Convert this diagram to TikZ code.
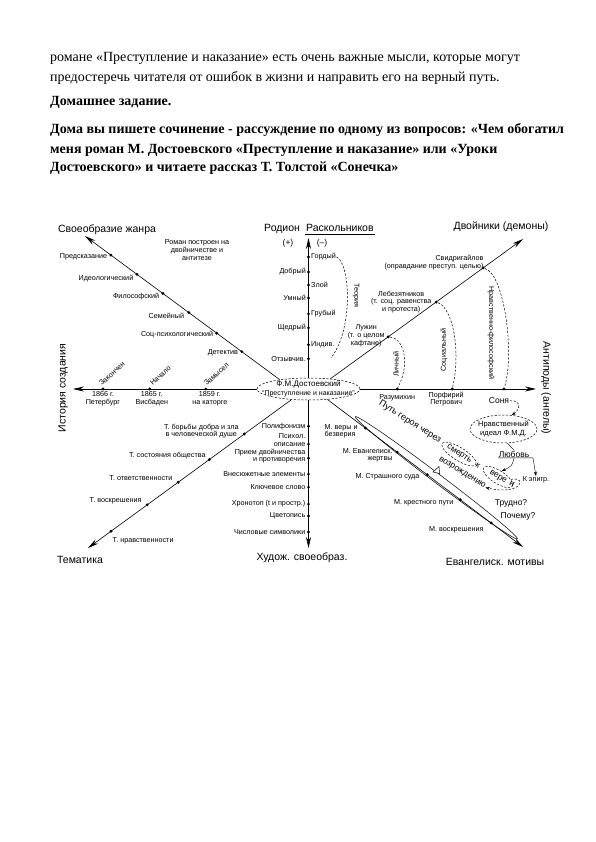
\documentclass[tikz,border=0pt]{standalone}
\usepackage{fontspec}
\setmainfont{Liberation Serif}
\setsansfont{Liberation Sans}
\usetikzlibrary{arrows.meta,positioning,shapes.geometric}

\tikzset{
  ax/.style={line width=0.6pt,-{Stealth[length=11pt,width=5pt]}},
  dot/.style={circle,fill,inner sep=0pt,minimum size=3.2pt},
  lbl/.style={font=\sffamily\fontsize{7.2}{7.6}\selectfont,inner sep=0.5pt},
  ttl/.style={font=\sffamily\fontsize{10.5}{12}\selectfont,inner sep=1pt},
  mid/.style={font=\sffamily\fontsize{8.5}{9}\selectfont,inner sep=0.5pt},
  dsh/.style={dash pattern=on 2.2pt off 1.6pt,line width=0.5pt},
  small arrow/.style={-{Stealth[length=4.5pt,width=3pt]}},
  para/.style={font=\fontsize{14}{16}\selectfont,anchor=base west,inner sep=0pt},
  bpara/.style={para,font=\bfseries\fontsize{14}{16}\selectfont},
}

\begin{document}
\begin{tikzpicture}[x=1pt,y=-1pt]
\useasboundingbox[fill=white] (0,0) rectangle (595,842);

% text above the scheme
\node[para] (p1) at (50,62) {романе «Преступление и наказание» есть очень важные мысли, которые могут};
\node[para] (p2) at (50,82) {предостеречь читателя от ошибок в жизни и направить его на верный путь.};
\node[bpara] (hw) at (50,106) {Домашнее задание.};
\node[bpara] (q1) at (50,134) {Дома вы пишете сочинение - рассуждение по одному из вопросов: «Чем обогатил};
\node[bpara] (q2) at (50,154) {меня роман М. Достоевского «Преступление и наказание» или «Уроки};
\node[bpara] (q3) at (50,172) {Достоевского» и читаете рассказ Т. Толстой «Сонечка»};

% centre
\node[draw,dsh,ellipse,minimum width=103pt,minimum height=22pt,inner sep=0pt] (fmd) at (308.5,389) {};
\node[lbl,align=center,font=\sffamily\fontsize{7}{9}\selectfont] (fmdtxt) at (fmd)
  {{\fontsize{8}{9}\selectfont Ф.М.Достоевский}\\“Преступление и наказание”};

\coordinate (genre) at (85,236);
\coordinate (dvoj) at (523,239);
\coordinate (raskol) at (308.5,238);
\coordinate (hist) at (73,389);
\coordinate (anti) at (536,389);
\coordinate (tema) at (88,548);
\coordinate (hud) at (308.5,548);
\coordinate (evang) at (523,547);

% axes with points
\draw[ax] (fmd.162) -- (genre)
  node[dot,pos=0.867] (g1) {} node[dot,pos=0.733] (g2) {}
  node[dot,pos=0.6] (g3) {} node[dot,pos=0.467] (g4) {}
  node[dot,pos=0.323] (g5) {} node[dot,pos=0.195] (g6) {};
\draw[ax] (fmd.north) -- (raskol)
  node[dot,pos=0.864] (v1) {} node[dot,pos=0.757] (v2) {}
  node[dot,pos=0.664] (v3) {} node[dot,pos=0.571] (v4) {}
  node[dot,pos=0.457] (v5) {} node[dot,pos=0.357] (v6) {}
  node[dot,pos=0.236] (v7) {} node[dot,pos=0.136] (v8) {};
\draw[ax] (fmd.25) -- (dvoj)
  node[dot,pos=0.3] (u1) {} node[dot,pos=0.549] (u2) {} node[dot,pos=0.793] (u3) {};
\draw[ax] (fmd.west) -- (hist)
  node[dot,pos=0.277] (h1) {} node[dot,pos=0.582] (h2) {} node[dot,pos=0.837] (h3) {};
\draw[ax] (fmd.east) -- (anti)
  node[dot,pos=0.21] (a1) {} node[dot,pos=0.523] (a2) {} node[dot,pos=0.818] (a3) {};
\draw[ax] (fmd.212) -- (tema)
  node[dot,pos=0.232] (t1) {} node[dot,pos=0.404] (t2) {}
  node[dot,pos=0.557] (t3) {} node[dot,pos=0.709] (t4) {}
  node[dot,pos=0.887] (t5) {};
\draw[ax] (fmd.south) -- (hud)
  node[dot,pos=0.176] (b1) {} node[dot,pos=0.297] (b2) {}
  node[dot,pos=0.392] (b3) {} node[dot,pos=0.5] (b4) {}
  node[dot,pos=0.588] (b5) {} node[dot,pos=0.703] (b6) {}
  node[dot,pos=0.784] (b7) {} node[dot,pos=0.892] (b8) {};
\draw[ax] (fmd.331) -- (evang)
  node[dot,pos=0.194] (m1) {} node[dot,pos=0.357] (m2) {}
  node[dot,pos=0.51] (m3) {} node[dot,pos=0.679] (m4) {}
  node[dot,pos=0.837] (m5) {};

% titles
\node[ttl] (tgenre) at (107,230) {Своеобразие жанра};
\node[ttl,anchor=base west] (rod) at (263,231) {Родион};
\node[ttl,anchor=base west] (rask) at (305,231) {Раскольников};
\draw[line width=1pt] ([yshift=-2pt]rask.south west) -- ([yshift=-2pt]rask.south east);
\node[ttl] (tdvoj) at (501,227) {Двойники (демоны)};
\node[ttl,rotate=90] (thist) at (63,388) {История создания};
\node[ttl,rotate=-90] (tanti) at (546,388) {Антиподы (ангелы)};
\node[ttl] (ttema) at (80,560) {Тематика};
\node[ttl] (thud) at (302,558) {Худож. своеобраз.};
\node[ttl] (tevang) at (495,562) {Евангелиск. мотивы};
\node[mid] (plus) at (288,243) {(+)};
\node[mid] (minus) at (322,243) {(--)};

% genre
\node[lbl,align=center] (antit) at (197,250) {Роман построен на\\двойничестве и\\антитезе};
\node[lbl,anchor=east] (lg1) at ([xshift=-3pt,yshift=-2pt]g1) {Предсказание};
\node[lbl,anchor=east] (lg2) at ([xshift=-3pt,yshift=-4pt]g2) {Идеологический};
\node[lbl,anchor=east] (lg3) at ([xshift=-3pt,yshift=-3pt]g3) {Философский};
\node[lbl,anchor=east] (lg4) at ([xshift=-4pt,yshift=-3pt]g4) {Семейный};
\node[lbl,anchor=east] (lg5) at ([xshift=-3pt,yshift=-1pt]g5) {Соц-психологический};
\node[lbl,anchor=east] (lg6) at ([xshift=-3pt,yshift=-1pt]g6) {Детектив};

% Raskolnikov
\node[lbl,anchor=west] (lv1) at ([xshift=2pt]v1) {Гордый};
\node[lbl,anchor=east] (lv2) at ([xshift=-2pt]v2) {Добрый};
\node[lbl,anchor=west] (lv3) at ([xshift=2pt]v3) {Злой};
\node[lbl,anchor=east] (lv4) at ([xshift=-2pt]v4) {Умный};
\node[lbl,anchor=west] (lv5) at ([xshift=2pt]v5) {Грубый};
\node[lbl,anchor=east] (lv6) at ([xshift=-2pt]v6) {Щедрый};
\node[lbl,anchor=west] (lv7) at ([xshift=2pt]v7) {Индив.};
\node[lbl,anchor=east] (lv8) at ([xshift=-2pt]v8) {Отзывчив.};
\coordinate (teorend) at (331,358);
\draw[dsh] (lv1.east) .. controls (350,263) and (354,328) .. (teorend);
\node[lbl,rotate=-90] (teor) at (356,295) {Теория};

% doubles
\node[lbl,align=center,anchor=east] (llu) at ([xshift=-3pt,yshift=1pt]u1) {Лужин\\(т. о целом\\кафтане)};
\node[lbl,align=center,anchor=east] (llb) at ([xshift=-4pt]u2) {Лебезятников\\(т. соц. равенства\\и протеста)};
\node[lbl,align=right,anchor=east] (lsv) at ([xshift=1pt,yshift=5.5pt]u3) {Свидригайлов\\(оправдание преступ. целью)};
\draw[dsh] (u1) .. controls (403,338) and (411,362) .. (a1);
\node[lbl,rotate=90] (lich) at (396,364) {Личный};
\draw[dsh] (u2) .. controls (453,308) and (461,352) .. (a2);
\node[lbl,rotate=90] (soc) at (444,350) {Социальный};
\draw[dsh] (u3) .. controls (504,274) and (515,352) .. (a3);
\node[lbl,rotate=-90] (nrav) at (491,333) {Нравственно-философский};

% antipodes
\node[lbl,anchor=north] (lrz) at ([yshift=-5pt]a1) {Разумихин};
\node[lbl,anchor=north,align=center] (lpf) at ([xshift=-6pt,yshift=-2pt]a2) {Порфирий\\Петрович};
\node[mid,anchor=north] (sonya) at ([xshift=-5pt,yshift=-8pt]a3) {Соня};
\node[draw,dsh,ellipse,minimum width=67pt,minimum height=28pt,inner sep=0pt] (ideal) at (503.5,429) {};
\node[lbl,align=center,font=\sffamily\fontsize{7.5}{8.5}\selectfont] (idealtxt) at (ideal) {Нравственный\\идеал Ф.М.Д.};
\draw[dsh,small arrow] (sonya.east) .. controls (522,400) and (520,410) .. (ideal.60);
\node[mid] (lub) at (514,454) {Любовь};
\node[lbl] (kep) at (536,480) {К эпигр.};
\draw (ideal.-75) -- (lub.north);
\draw[small arrow] (lub.south west) -- ([xshift=3pt]lub.south east) -- (kep.north);

% history
\node[lbl,anchor=north,align=center] (d1) at ([xshift=4pt,yshift=-2pt]h1) {1859 г.\\на каторге};
\node[lbl,anchor=north,align=center] (d2) at ([xshift=2pt,yshift=-2pt]h2) {1865 г.\\Висбаден};
\node[lbl,anchor=north,align=center] (d3) at ([yshift=-2pt]h3) {1866 г.\\Петербург};
\node[lbl,rotate=42,anchor=south west] (s1) at ([xshift=1pt,yshift=2pt]h1) {Замысел};
\node[lbl,rotate=42,anchor=south west] (s2) at ([xshift=3pt,yshift=2pt]h2) {Начало};
\node[lbl,rotate=42,anchor=south west] (s3) at ([xshift=-1pt,yshift=2pt]h3) {Закончен};

% themes
\node[lbl,align=center,anchor=east] (lt1) at ([xshift=-5pt,yshift=3pt]t1) {Т. борьбы добра и зла\\в человеческой душе};
\node[lbl,anchor=east] (lt2) at ([xshift=-3pt,yshift=4pt]t2) {Т. состояния общества};
\node[lbl,anchor=east] (lt3) at ([xshift=-5pt,yshift=4pt]t3) {Т. ответственности};
\node[lbl,anchor=east] (lt4) at ([xshift=-5pt,yshift=4pt]t4) {Т. воскрешения};
\node[lbl,anchor=west] (lt5) at ([xshift=1pt,yshift=-10pt]t5) {Т. нравственности};

% artistic features
\node[lbl,anchor=east] (lb1) at ([xshift=-2.5pt]b1) {Полифонизм};
\node[lbl,anchor=east,align=right] (lb2) at ([xshift=-2.5pt,yshift=4pt]b2) {Психол.\\описание};
\node[lbl,anchor=east,align=right] (lb3) at ([xshift=-2.5pt,yshift=2pt]b3) {Прием двойничества\\и противоречия};
\node[lbl,anchor=east] (lb4) at ([xshift=-2.5pt]b4) {Внесюжетные элементы};
\node[lbl,anchor=east] (lb5) at ([xshift=-2.5pt]b5) {Ключевое слово};
\node[lbl,anchor=east] (lb6) at ([xshift=-2.5pt]b6) {Хронотоп (t и простр.)};
\node[lbl,anchor=east] (lb7) at ([xshift=-2.5pt]b7) {Цветопись};
\node[lbl,anchor=east] (lb8) at ([xshift=-2.5pt]b8) {Числовые символики};

% gospel motifs
\node[lbl,align=left,anchor=east] (lm1) at ([xshift=-7pt,yshift=-3pt]m1) {М. веры и\\безверия};
\node[lbl,align=right,anchor=east] (lm2) at ([xshift=-4pt,yshift=-3pt]m2) {М. Евангелиск.\\жертвы};
\node[lbl,anchor=east] (lm3) at ([xshift=-7pt,yshift=-2pt]m3) {М. Страшного суда};
\node[lbl,anchor=east] (lm4) at ([xshift=-6pt,yshift=-3pt]m4) {М. крестного пути};
\node[lbl,anchor=east] (lm5) at ([xshift=-7pt,yshift=-7pt]m5) {М. воскрешения};
\node[draw,ellipse,rotate=-37,minimum width=203pt,minimum height=9pt,inner sep=0pt,line width=0.5pt] (loop) at (436.4,477.8) {};
\draw[fill=white,line width=0.5pt] (433,472) -- (439,466.5) -- (439.5,473.5) -- cycle;

% the hero's way
\node[mid,rotate=-32,font=\sffamily\fontsize{9}{9}\selectfont] (put) at (410,422) {Путь героя через};
\node[draw,dsh,ellipse,rotate=-32,inner sep=0pt,minimum width=40pt,minimum height=13pt,font=\sffamily\fontsize{8.5}{9}\selectfont] (smert) at (459,454) {смерть};
\node[mid,rotate=-32] (k) at (478,466) {к};
\node[draw,dsh,ellipse,rotate=-32,inner sep=0pt,minimum width=34pt,minimum height=13pt,font=\sffamily\fontsize{8.5}{9}\selectfont] (vere) at (498,477) {вере};
\node[mid,rotate=-32] (i) at (512,484) {и};
\node[mid,rotate=-32] (voz) at (462,473) {возрождению};
\draw[small arrow] (lub.south) .. controls (512,466) .. (vere.north);
\draw[dsh,small arrow] (vere.north east) .. controls (528,476) and (522,496) .. (voz.east);
\node[mid] (trud) at (511,503) {Трудно?};
\node[mid] (pochemu) at (518,516) {Почему?};
\end{tikzpicture}
\end{document}
